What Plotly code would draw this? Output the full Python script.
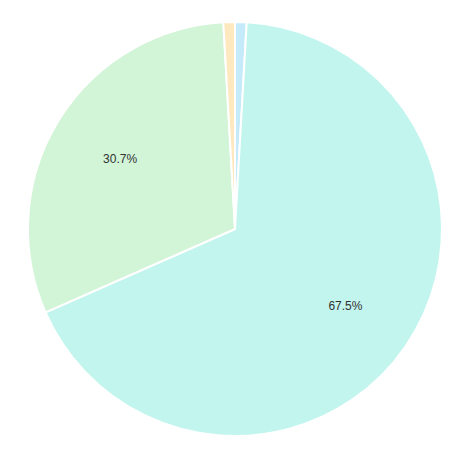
import plotly.graph_objects as go

labels = ["A", "B", "C", "D"]
values = [0.9, 67.5, 30.7, 0.9]
colors = ["#c5ebfb", "#c3f5ef", "#d2f4d7", "#fde8c0"]
templates = ["", "%{percent:.1%}", "%{percent:.1%}", ""]

common = dict(labels=labels, values=values, sort=False, direction="clockwise",
              rotation=0, showlegend=False)

fig = go.Figure()
fig.add_trace(go.Pie(
    **common,
    marker=dict(colors=colors, line=dict(color="#ffffff", width=2)),
    textinfo="none",
    hoverinfo="label+percent",
))
fig.add_trace(go.Pie(
    **common,
    hole=0.3,
    marker=dict(colors=["rgba(0,0,0,0)"] * 4, line=dict(width=0)),
    texttemplate=templates,
    textposition="inside",
    insidetextorientation="horizontal",
    textfont=dict(family="Liberation Sans, Arial, sans-serif", size=12, color="#333333"),
    hoverinfo="skip",
))
fig.update_layout(
    width=465, height=455,
    margin=dict(l=20, r=31, t=13, b=26),
    paper_bgcolor="#ffffff",
    plot_bgcolor="#ffffff",
)
fig.write_html("out.html")
